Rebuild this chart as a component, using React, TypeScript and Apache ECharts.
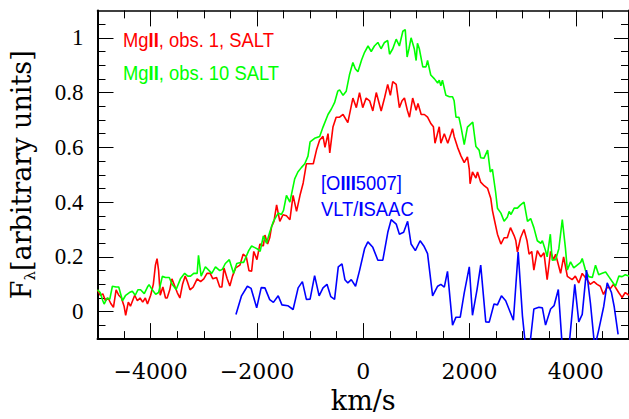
import React, { useEffect, useRef } from "react";
import * as echarts from "echarts";

// MgII, obs. 1, SALT  [velocity km/s, flux]
const redSpectrum: [number, number][] = [
  [-5000, 0.08], [-4950, 0.06], [-4900, 0.065], [-4850, 0.04], [-4800, 0.05], [-4750, 0.03],
  [-4700, 0.016], [-4650, 0.08], [-4600, 0.06], [-4550, 0.05], [-4500, 0.02], [-4470, -0.013],
  [-4420, 0.035], [-4380, 0.02], [-4300, 0.06], [-4250, 0.04], [-4200, 0.05], [-4150, 0.035],
  [-4100, 0.05], [-4060, 0.028], [-4000, 0.06], [-3950, 0.1], [-3910, 0.17], [-3880, 0.194],
  [-3850, 0.15], [-3820, 0.06], [-3770, 0.09], [-3720, 0.05], [-3690, 0.05], [-3640, 0.08],
  [-3600, 0.12], [-3560, 0.1], [-3500, 0.07], [-3450, 0.05], [-3400, 0.1], [-3350, 0.13],
  [-3310, 0.11], [-3260, 0.08], [-3200, 0.09], [-3125, 0.12], [-3060, 0.11], [-3000, 0.12],
  [-2940, 0.14], [-2880, 0.14], [-2830, 0.12], [-2760, 0.125], [-2700, 0.09], [-2660, 0.09],
  [-2620, 0.16], [-2560, 0.12], [-2510, 0.094], [-2460, 0.13], [-2400, 0.16], [-2320, 0.17],
  [-2260, 0.21], [-2200, 0.2], [-2150, 0.15], [-2100, 0.148], [-2060, 0.22], [-2000, 0.19],
  [-1945, 0.247], [-1880, 0.24], [-1850, 0.28], [-1800, 0.247], [-1760, 0.27], [-1725, 0.31],
  [-1680, 0.33], [-1630, 0.39], [-1570, 0.33], [-1510, 0.354], [-1445, 0.35], [-1380, 0.336],
  [-1320, 0.425], [-1255, 0.366], [-1190, 0.425], [-1130, 0.47], [-1070, 0.54], [-1005, 0.54],
  [-940, 0.54], [-880, 0.59], [-820, 0.627], [-757, 0.64], [-720, 0.6], [-663, 0.65],
  [-630, 0.58], [-570, 0.674], [-510, 0.71], [-445, 0.71], [-380, 0.72], [-290, 0.69],
  [-195, 0.78], [-130, 0.745], [-70, 0.8], [-10, 0.745], [55, 0.78], [120, 0.77],
  [180, 0.733], [245, 0.8], [337, 0.733], [400, 0.78], [460, 0.83], [510, 0.79],
  [555, 0.84], [620, 0.83], [680, 0.745], [730, 0.77], [775, 0.78], [830, 0.735],
  [870, 0.71], [930, 0.78], [995, 0.735], [1030, 0.76], [1090, 0.72], [1150, 0.72],
  [1210, 0.71], [1275, 0.686], [1320, 0.675], [1350, 0.615], [1430, 0.675], [1460, 0.615],
  [1525, 0.65], [1590, 0.615], [1650, 0.65], [1680, 0.668], [1710, 0.64], [1775, 0.6],
  [1840, 0.568], [1900, 0.544], [1960, 0.565], [1995, 0.52], [2010, 0.467], [2055, 0.51],
  [2120, 0.488], [2150, 0.51], [2210, 0.473], [2275, 0.46], [2340, 0.45], [2400, 0.413],
  [2430, 0.37], [2460, 0.342], [2525, 0.283], [2590, 0.247], [2650, 0.27], [2710, 0.27],
  [2770, 0.307], [2840, 0.277], [2870, 0.26], [2900, 0.218], [2960, 0.27], [3025, 0.3],
  [3080, 0.26], [3120, 0.21], [3170, 0.22], [3210, 0.152], [3275, 0.223], [3340, 0.2],
  [3400, 0.215], [3460, 0.117], [3525, 0.22], [3580, 0.19], [3620, 0.21], [3713, 0.14],
  [3770, 0.2], [3840, 0.129], [3930, 0.117], [3990, 0.13], [4055, 0.105], [4120, 0.14],
  [4210, 0.117], [4270, 0.1], [4340, 0.11], [4400, 0.1], [4460, 0.093], [4520, 0.063],
  [4590, 0.09], [4650, 0.085], [4710, 0.1], [4805, 0.07], [4870, 0.052], [4930, 0.07],
  [5000, 0.06],
];

// MgII, obs. 10 SALT
const greenSpectrum: [number, number][] = [
  [-5000, 0.08], [-4950, 0.07], [-4900, 0.04], [-4875, 0.028], [-4820, 0.05], [-4770, 0.045],
  [-4720, 0.093], [-4650, 0.09], [-4600, 0.09], [-4530, 0.04], [-4470, 0.06], [-4400, 0.07],
  [-4345, 0.075], [-4290, 0.06], [-4240, 0.08], [-4190, 0.08], [-4120, 0.066], [-4060, 0.09],
  [-4030, 0.099], [-3970, 0.08], [-3905, 0.064], [-3850, 0.07], [-3780, 0.129], [-3720, 0.125],
  [-3650, 0.125], [-3595, 0.1], [-3520, 0.081], [-3440, 0.12], [-3360, 0.14], [-3300, 0.13],
  [-3250, 0.13], [-3190, 0.14], [-3125, 0.14], [-3100, 0.206], [-3050, 0.13], [-2970, 0.164],
  [-2900, 0.15], [-2850, 0.14], [-2780, 0.164], [-2700, 0.15], [-2650, 0.155], [-2595, 0.176],
  [-2520, 0.19], [-2440, 0.14], [-2380, 0.176], [-2310, 0.18], [-2250, 0.18], [-2155, 0.223],
  [-2100, 0.24], [-2050, 0.235], [-2000, 0.23], [-1940, 0.22], [-1880, 0.277], [-1820, 0.25],
  [-1760, 0.29], [-1690, 0.33], [-1600, 0.36], [-1540, 0.355], [-1500, 0.37], [-1445, 0.425],
  [-1380, 0.4], [-1290, 0.485], [-1230, 0.51], [-1165, 0.526], [-1100, 0.54], [-1040, 0.568],
  [-1000, 0.62], [-915, 0.633], [-820, 0.64], [-757, 0.674], [-663, 0.72], [-600, 0.74],
  [-540, 0.763], [-480, 0.805], [-445, 0.81], [-380, 0.79], [-320, 0.805], [-260, 0.864],
  [-195, 0.91], [-150, 0.887], [-100, 0.876], [-30, 0.92], [25, 0.947], [90, 0.97],
  [150, 0.95], [210, 0.97], [275, 0.983], [335, 0.96], [400, 0.983], [460, 0.99],
  [495, 0.94], [555, 0.96], [620, 0.995], [680, 0.97], [745, 1.024], [790, 1.03],
  [825, 0.93], [860, 0.96], [900, 1.0], [960, 0.96], [995, 0.917], [1020, 0.98],
  [1055, 0.96], [1120, 0.894], [1180, 0.894], [1210, 0.917], [1270, 0.864], [1340, 0.85],
  [1400, 0.835], [1430, 0.845], [1460, 0.825], [1490, 0.845], [1555, 0.79], [1620, 0.785],
  [1680, 0.785], [1710, 0.77], [1745, 0.71], [1800, 0.71], [1840, 0.674], [1900, 0.61],
  [1960, 0.674], [2025, 0.686], [2060, 0.692], [2120, 0.603], [2180, 0.59], [2210, 0.562],
  [2270, 0.56], [2340, 0.59], [2390, 0.51], [2430, 0.52], [2490, 0.437], [2525, 0.378],
  [2590, 0.36], [2650, 0.33], [2710, 0.345], [2745, 0.366], [2780, 0.355], [2840, 0.378],
  [2900, 0.378], [2960, 0.39], [3025, 0.4], [3090, 0.33], [3150, 0.34], [3210, 0.307],
  [3275, 0.259], [3340, 0.25], [3370, 0.259], [3430, 0.223], [3460, 0.2], [3520, 0.283],
  [3555, 0.188], [3620, 0.19], [3680, 0.23], [3745, 0.336], [3805, 0.23], [3840, 0.152],
  [3900, 0.182], [3960, 0.16], [4025, 0.17], [4090, 0.18], [4120, 0.194], [4180, 0.152],
  [4245, 0.128], [4310, 0.125], [4370, 0.17], [4430, 0.135], [4495, 0.14], [4560, 0.145],
  [4620, 0.128], [4680, 0.111], [4745, 0.093], [4810, 0.13], [4870, 0.128], [4930, 0.135],
  [5000, 0.13],
];

// [OIII]5007, VLT/ISAAC
const blueSpectrum: [number, number][] = [
  [-2395, -0.01], [-2290, 0.058], [-2180, 0.093], [-2110, 0.085], [-2005, 0.014], [-1920, 0.088],
  [-1850, 0.087], [-1760, 0.044], [-1690, 0.034], [-1600, 0.058], [-1530, 0.025], [-1420, 0.022],
  [-1320, 0.008], [-1225, 0.087], [-1145, 0.11], [-1070, 0.045], [-1000, 0.046], [-915, 0.132],
  [-830, 0.058], [-757, 0.087], [-682, 0.1], [-610, 0.055], [-540, 0.045], [-470, 0.164],
  [-400, 0.175], [-345, 0.117], [-290, 0.105], [-225, 0.117], [-145, 0.093], [-70, 0.15],
  [25, 0.23], [87, 0.255], [180, 0.235], [275, 0.188], [368, 0.188], [462, 0.29],
  [525, 0.336], [620, 0.32], [680, 0.283], [760, 0.29], [835, 0.33], [900, 0.247],
  [980, 0.223], [1070, 0.259], [1140, 0.24], [1210, 0.212], [1305, 0.058], [1400, 0.093],
  [1460, 0.1], [1525, 0.09], [1585, 0.147], [1680, -0.049], [1745, -0.02], [1825, -0.02],
  [1900, 0.069], [1995, 0.164], [2055, -0.013], [2140, 0.08], [2210, 0.17], [2305, -0.037],
  [2370, -0.038], [2460, 0.028], [2525, 0.025], [2600, 0.058], [2680, 0.04], [2825, -0.031],
  [2915, 0.218], [2995, -0.015], [3055, -0.13], [3130, -0.13], [3210, 0.01], [3305, 0.016],
  [3370, 0.014], [3430, -0.049], [3525, 0.01], [3590, 0.022], [3670, 0.081], [3745, -0.13],
  [3870, -0.13], [3980, 0.1], [4055, -0.037], [4120, -0.01], [4200, 0.152], [4275, 0.03],
  [4355, -0.13], [4430, -0.067], [4525, 0.02], [4590, 0.105], [4670, 0.07], [4720, 0.02],
  [4795, -0.083],
];

const xMajorTicks = [-4000, -2000, 0, 2000, 4000];
const xMinorTicks = [-4500, -3500, -3000, -2500, -1500, -1000, -500, 500, 1000, 1500, 2500, 3000, 3500, 4500];
const yMajorTicks = [0, 0.2, 0.4, 0.6, 0.8, 1];
const yMinorTicks = [-0.05, 0.05, 0.1, 0.15, 0.25, 0.3, 0.35, 0.45, 0.5, 0.55, 0.65, 0.7, 0.75, 0.85, 0.9, 0.95, 1.05];

const X_RANGE = [-5000, 5000];
const Y_RANGE = [-0.1, 1.1];

const SERIF = "DejaVu Serif";
const SANS = "Liberation Sans";
const RED = "#ff0000";
const GREEN = "#00ff00";
const BLUE = "#0000ff";

function tickAxis(kind: "x" | "y", position: string, ticks: number[], len: number, line: boolean) {
  const range = kind === "x" ? X_RANGE : Y_RANGE;
  return {
    type: "value",
    position,
    min: range[0],
    max: range[1],
    axisLine: { show: line, onZero: false, lineStyle: { color: "#000", width: 2 } },
    axisTick: { show: true, inside: true, length: len, customValues: ticks, lineStyle: { color: "#000", width: 1 } },
    axisLabel: { show: false },
    splitLine: { show: false },
  } as any;
}

function legendText(parts: [string, boolean][], color: string, x: number, y: number) {
  const text = parts.map(([t, b]) => `{${b ? "b" : "n"}|${t}}`).join("");
  return {
    type: "text",
    x,
    y,
    scaleX: 0.92,
    style: {
      text,
      fill: color,
      fontFamily: SANS,
      fontSize: 20,
      verticalAlign: "middle",
      rich: {
        n: { fill: color, fontFamily: SANS, fontSize: 20 },
        b: { fill: color, fontFamily: SANS, fontSize: 20, fontWeight: "bold" },
      },
    },
  };
}

export default function App() {
  const ref = useRef<HTMLDivElement>(null);
  useEffect(() => {
    if (!ref.current) return;
    const chart = echarts.init(ref.current, undefined, { renderer: "svg" });

    const xMain = tickAxis("x", "bottom", xMajorTicks, 16, true);
    xMain.axisLabel = {
      show: true,
      customValues: xMajorTicks,
      margin: 21,
      color: "#000",
      fontFamily: SERIF,
      fontSize: 22,
      formatter: (v: number) => (v < 0 ? "\u2212" + Math.abs(v) : String(v)),
    };
    xMain.name = "km/s";
    xMain.nameLocation = "middle";
    xMain.nameGap = 43;
    xMain.nameTextStyle = { color: "#000", fontFamily: SERIF, fontSize: 27 };

    const yMain = tickAxis("y", "left", yMajorTicks, 16, true);
    yMain.axisLabel = {
      show: true,
      customValues: yMajorTicks,
      margin: 14,
      color: "#000",
      fontFamily: "Liberation Serif",
      fontSize: 23,
      formatter: (v: number) => String(+v.toFixed(1)),
    };
    yMain.name = "{f|F}{s|\u03bb}{t|[arbitrary units]}";
    yMain.nameLocation = "middle";
    yMain.nameRotate = 90;
    yMain.nameGap = 60;
    yMain.nameTextStyle = {
      color: "#000",
      fontFamily: SERIF,
      fontSize: 27,
      rich: {
        f: { fontFamily: SERIF, fontSize: 27, color: "#000", verticalAlign: "middle" },
        s: { fontFamily: SERIF, fontSize: 15, color: "#000", verticalAlign: "middle", padding: [17, 0, 0, 0] },
        t: { fontFamily: SERIF, fontSize: 27, color: "#000", verticalAlign: "middle" },
      },
    };

    const topAxis = tickAxis("x", "top", xMajorTicks, 16, true);
    topAxis.axisLine.lineStyle.width = 1.5;

    chart.setOption({
      animation: false,
      backgroundColor: "#fff",
      grid: { left: 97, right: -1, top: 10.4, bottom: 71.4, containLabel: false },
      xAxis: [
        xMain,
        tickAxis("x", "bottom", xMinorTicks, 8, false),
        topAxis,
        tickAxis("x", "top", xMinorTicks, 8, false),
      ],
      yAxis: [
        yMain,
        tickAxis("y", "left", yMinorTicks, 8, false),
        tickAxis("y", "right", yMajorTicks, 15, true),
        tickAxis("y", "right", yMinorTicks, 8, false),
      ],
      series: [
        {
          type: "line",
          name: "MgII, obs. 1, SALT",
          data: redSpectrum,
          xAxisIndex: 0,
          yAxisIndex: 0,
          showSymbol: false,
          clip: true,
          lineStyle: { color: RED, width: 1.6 },
          itemStyle: { color: RED },
        },
        {
          type: "line",
          name: "MgII, obs. 10 SALT",
          data: greenSpectrum,
          xAxisIndex: 0,
          yAxisIndex: 0,
          showSymbol: false,
          clip: true,
          lineStyle: { color: GREEN, width: 1.6 },
          itemStyle: { color: GREEN },
        },
        {
          type: "line",
          name: "[OIII5007] VLT/ISAAC",
          data: blueSpectrum,
          xAxisIndex: 0,
          yAxisIndex: 0,
          showSymbol: false,
          clip: true,
          lineStyle: { color: BLUE, width: 1.6 },
          itemStyle: { color: BLUE },
        },
      ],
      graphic: [
        legendText([["Mg", false], ["II", true], [", obs. 1, SALT", false]], RED, 123, 40),
        legendText([["Mg", false], ["II", true], [", obs. 10 SALT", false]], GREEN, 123, 73),
        legendText([["[O", false], ["III", true], ["5007]", false]], BLUE, 321, 183),
        legendText([["VLT/", false], ["I", true], ["SAAC", false]], BLUE, 321, 209),
      ],
    });
    return () => chart.dispose();
  }, []);
  return (
    <div
      ref={ref}
      style={{ position: "fixed", left: 0, top: 0, width: 629, height: 419, background: "#fff" }}
    />
  );
}
